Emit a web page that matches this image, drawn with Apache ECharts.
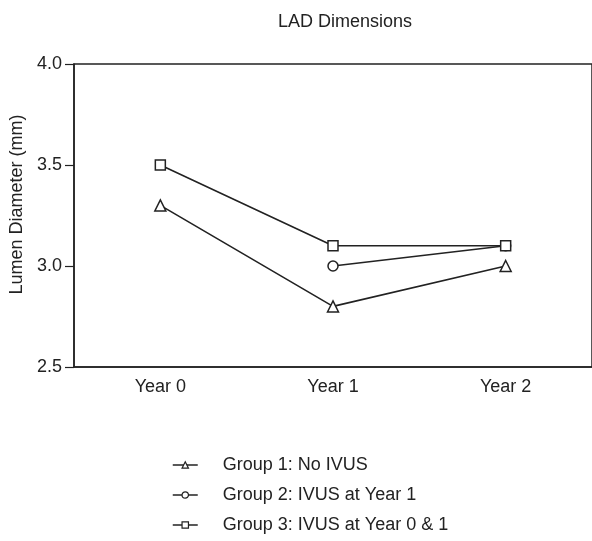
<!DOCTYPE html>
<html>
<head>
<meta charset="utf-8">
<script src="https://cdn.jsdelivr.net/npm/echarts@6/dist/echarts.min.js"></script>
<style>
html,body{margin:0;padding:0;background:#fff;}
#chart{width:592px;height:541px;}
</style>
</head>
<body>
<div id="chart"></div>
<script>
const categories = ['Year 0', 'Year 1', 'Year 2'];
const group1 = [3.3, 2.8, 3.0];
const group2 = [null, 3.0, 3.1];
const group3 = [3.5, 3.1, 3.1];
const seriesNames = ['Group 1: No IVUS', 'Group 2: IVUS at Year 1', 'Group 3: IVUS at Year 0 & 1'];
const yTicks = [2.5, 3.0, 3.5, 4.0];

const ink = '#222';
const font = 'Liberation Sans, Arial, Helvetica, sans-serif';

const chart = echarts.init(document.getElementById('chart'), null, {renderer: 'canvas'});

function mkSeries(name, data, symbol, size) {
  return {
    name: name,
    type: 'line',
    data: data,
    symbol: symbol,
    symbolSize: size,
    showAllSymbol: true,
    connectNulls: false,
    lineStyle: {color: ink, width: 1.6},
    itemStyle: {color: '#fff', borderColor: ink, borderWidth: 1.5},
    emphasis: {disabled: true},
    animation: false
  };
}

chart.setOption({
  animation: false,
  backgroundColor: '#fff',
  title: {
    text: 'LAD Dimensions',
    left: 340,
    textAlign: 'center',
    top: 8,
    textStyle: {fontFamily: font, fontSize: 18, fontWeight: 'normal', color: ink}
  },
  grid: {
    left: 74, top: 64, width: 520, height: 303,
    show: true, borderColor: ink, borderWidth: 1.5, backgroundColor: 'transparent'
  },
  legend: {
    orient: 'vertical',
    left: 172,
    top: 456,
    height: 85,
    padding: 0,
    itemWidth: 25,
    itemHeight: 8,
    itemGap: 12,
    selectedMode: false,
    data: seriesNames,
    textStyle: {fontFamily: font, fontSize: 18, color: ink, lineHeight: 18, padding: [0, 0, 0, 20]},
    itemStyle: {color: '#fff', borderColor: ink, borderWidth: 1.2},
    lineStyle: {color: ink, width: 1.5}
  },
  xAxis: {
    type: 'category',
    data: categories,
    boundaryGap: true,
    axisLine: {show: true, lineStyle: {color: ink, width: 1.5}},
    axisTick: {show: false},
    axisLabel: {fontFamily: font, fontSize: 18, color: ink, margin: 11},
    splitLine: {show: false}
  },
  yAxis: {
    type: 'value',
    min: yTicks[0],
    max: yTicks[yTicks.length - 1],
    interval: 0.5,
    name: 'Lumen Diameter (mm)',
    nameLocation: 'middle',
    nameGap: 46,
    nameRotate: 90,
    nameTextStyle: {fontFamily: font, fontSize: 18, color: ink, padding: [0, 0, 0, 22]},
    axisLine: {show: true, lineStyle: {color: ink, width: 1.5}},
    axisTick: {show: true, length: 9, lineStyle: {color: ink, width: 1.2}},
    axisLabel: {fontFamily: font, fontSize: 18, color: ink, margin: 12,
      formatter: v => v.toFixed(1)},
    splitLine: {show: false}
  },
  series: [
    mkSeries(seriesNames[0], group1, 'triangle', 11),
    mkSeries(seriesNames[1], group2, 'circle', 10),
    mkSeries(seriesNames[2], group3, 'rect', 10)
  ]
});
</script>
</body>
</html>
